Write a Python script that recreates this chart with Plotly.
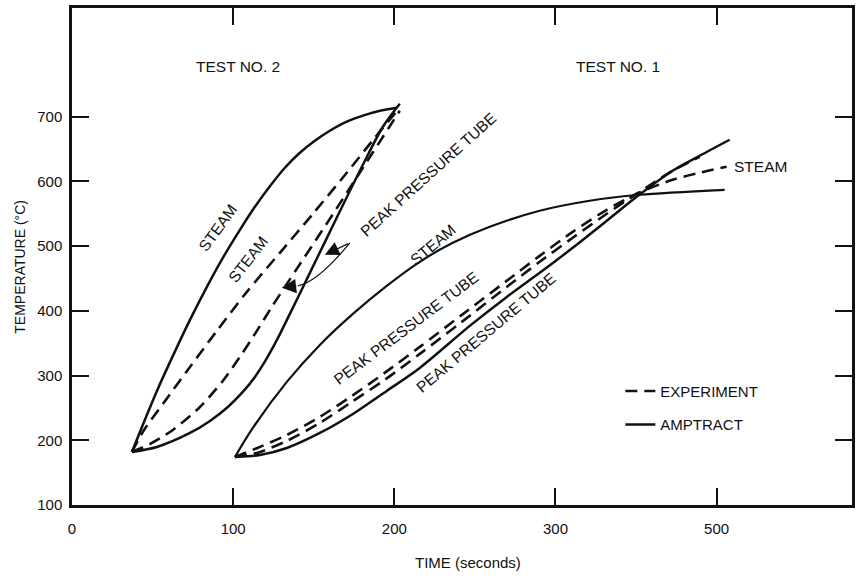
import plotly.graph_objects as go

# ---------------- data ----------------
# Test No. 2
t2_steam_amp_x = [37.2, 43.4, 52.7, 62.6, 73.2, 83.7, 93.6, 104.2, 113.5, 122.8, 132.1, 141.4, 150.7, 160.0, 170.5, 180.5, 191.0, 201.6]
t2_steam_amp_y = [182.0, 220.6, 276.3, 330.4, 386.0, 437.1, 481.9, 525.2, 560.8, 592.5, 621.1, 644.3, 662.9, 678.3, 692.3, 701.6, 709.3, 713.9]

t2_steam_exp_x = [37.2, 44.7, 56.4, 73.2, 89.9, 108.5, 129.0, 149.5, 170.5, 187.9, 202.2]
t2_steam_exp_y = [182.0, 216.0, 256.2, 313.4, 369.1, 429.4, 489.7, 550.0, 613.4, 667.5, 710.8]

t2_ppt_exp_x = [37.2, 48.4, 62.6, 79.4, 93.6, 104.2, 114.7, 124.0, 139.5, 160.0, 180.5, 203.4]
t2_ppt_exp_y = [182.0, 194.3, 216.0, 251.5, 291.7, 328.9, 369.1, 406.2, 464.9, 542.2, 621.1, 709.2]

t2_ppt_amp_x = [37.2, 52.7, 73.2, 85.6, 96.7, 106.0, 113.5, 120.3, 127.8, 135.8, 147.6, 160.0, 180.5, 192.9, 203.4]
t2_ppt_amp_y = [182.0, 189.7, 211.3, 229.9, 251.5, 274.7, 297.9, 324.2, 358.2, 398.4, 458.7, 522.1, 625.7, 684.5, 720.1]

# Test No. 1
t1_steam_amp_x = [101.1, 112.2, 133.3, 153.8, 174.3, 195.3, 215.8, 236.3, 259.2, 290.2, 321.2, 352.2, 405.0]
t1_steam_amp_y = [174.2, 219.1, 290.2, 347.4, 395.3, 438.6, 475.8, 505.1, 529.9, 554.6, 570.1, 579.4, 587.1]

t1_steam_exp_x = [101.1, 113.5, 133.3, 153.8, 173.6, 194.0, 215.8, 241.9, 269.8, 290.2, 310.7, 331.8, 350.4, 372.7, 389.5, 406.2]
t1_steam_exp_y = [174.2, 186.6, 208.2, 236.1, 268.5, 304.1, 344.3, 393.8, 446.4, 485.0, 522.1, 556.2, 580.9, 602.6, 613.4, 622.7]

t1_ppt_exp_x = [101.1, 114.7, 133.3, 153.8, 173.6, 194.0, 215.8, 241.9, 269.8, 290.2, 310.7, 331.8, 350.4, 372.7, 389.5]
t1_ppt_exp_y = [174.2, 180.4, 199.0, 226.8, 259.3, 293.3, 333.5, 383.0, 437.1, 475.8, 512.9, 550.0, 580.9, 616.5, 638.1]

t1_ppt_amp_x = [101.1, 116.6, 133.3, 153.8, 174.3, 195.3, 215.8, 246.8, 269.8, 290.2, 310.7, 331.8, 350.4, 372.7, 389.5, 408.1]
t1_ppt_amp_y = [174.2, 177.3, 188.1, 211.3, 240.7, 276.3, 311.8, 376.8, 421.6, 458.7, 497.4, 539.2, 576.3, 616.5, 639.7, 664.4]

x_tickvals = [0, 100, 200, 300, 400]
x_ticktext = ["0", "100", "200", "300", "500"]
y_tickvals = [100, 200, 300, 400, 500, 600, 700]
y_ticktext = ["100", "200", "300", "400", "500", "600", "700"]

FONT = "Liberation Sans, Arial, sans-serif"
INK = "#111111"
DASH = "12px,7px"
LABEL_SIZE = 15.5

fig = go.Figure()

def add(x, y, dashed, width, name=None, show=False, group=None):
    fig.add_trace(go.Scatter(
        x=x, y=y, mode="lines",
        line=dict(color=INK, width=width, dash=DASH if dashed else "solid",
                  shape="spline", smoothing=0.8),
        name=name, showlegend=show, legendgroup=group, hoverinfo="skip"))

add(t2_steam_amp_x, t2_steam_amp_y, False, 2.5)
add(t2_steam_exp_x, t2_steam_exp_y, True, 2.6)
add(t2_ppt_exp_x, t2_ppt_exp_y, True, 2.6)
add(t2_ppt_amp_x, t2_ppt_amp_y, False, 2.5)
add(t1_steam_amp_x, t1_steam_amp_y, False, 2.2)
add(t1_steam_exp_x, t1_steam_exp_y, True, 2.6, "EXPERIMENT", True, "exp")
add(t1_ppt_exp_x, t1_ppt_exp_y, True, 2.6)
add(t1_ppt_amp_x, t1_ppt_amp_y, False, 2.5, "AMPTRACT", True, "amp")

def label(text, x, y, angle=0, xanchor="center", size=LABEL_SIZE):
    fig.add_annotation(x=x, y=y, text=text, showarrow=False, textangle=angle,
                       xanchor=xanchor, yanchor="middle",
                       font=dict(family=FONT, size=size, color=INK))

label("TEST NO. 2", 103, 777)
label("TEST NO. 1", 339, 777)
label("STEAM", 90, 528, -54)
label("STEAM", 109, 480, -52)
label("PEAK PRESSURE TUBE", 221, 611, -42)
label("STEAM", 224, 503, -40)
label("PEAK PRESSURE TUBE", 207, 373, -37)
label("PEAK PRESSURE TUBE", 257, 366, -40)
label("STEAM", 409.3, 622.7, 0, "left")

# leader lines / arrows from the Test No. 2 peak-pressure-tube label
fig.add_shape(type="path", xref="x", yref="y",
              path="M 172.4 505.1 Q 152.6 444.8 140.2 438.6",
              line=dict(color=INK, width=1.2))
fig.add_annotation(x=130.2, y=435.6, ax=140.2, ay=438.6, axref="x", ayref="y",
                   showarrow=True, arrowhead=2, arrowsize=2.2, arrowwidth=1.3,
                   arrowcolor=INK, text="")
fig.add_annotation(x=156.9, y=486.6, ax=172.4, ay=505.1, axref="x", ayref="y",
                   showarrow=True, arrowhead=2, arrowsize=2.2, arrowwidth=1.3,
                   arrowcolor=INK, text="")

# axis titles
fig.add_annotation(xref="paper", yref="paper", x=0.508, y=-0.115, text="TIME (seconds)",
                   showarrow=False, xanchor="center", yanchor="middle",
                   font=dict(family=FONT, size=15, color=INK))
fig.add_annotation(xref="paper", yref="paper", x=-0.067, y=0.479, text="TEMPERATURE (°C)",
                   showarrow=False, xanchor="center", yanchor="middle", textangle=-90,
                   font=dict(family=FONT, size=14, color=INK))

axis_common = dict(showline=True, linewidth=2.5, linecolor=INK, mirror="ticks",
                   ticks="inside", ticklen=17, tickwidth=1.5, tickcolor=INK,
                   showgrid=False, zeroline=False,
                   tickfont=dict(family=FONT, size=15, color=INK))

fig.update_xaxes(range=[0, 484], tickvals=x_tickvals, ticktext=x_ticktext,
                 ticklabelstandoff=8, **axis_common)
fig.update_yaxes(range=[100, 868], tickvals=y_tickvals, ticktext=y_ticktext,
                 ticklabelstandoff=4, **axis_common)

fig.update_layout(
    width=860, height=579,
    margin=dict(l=72, r=8, t=8, b=74, autoexpand=False),
    paper_bgcolor="white", plot_bgcolor="white",
    font=dict(family=FONT, size=15, color=INK),
    legend=dict(x=0.703, y=0.262, xanchor="left", yanchor="top",
                bgcolor="rgba(0,0,0,0)", borderwidth=0,
                tracegroupgap=11, traceorder="grouped",
                font=dict(family=FONT, size=15, color=INK)),
    showlegend=True,
)

fig.write_html("out.html")
